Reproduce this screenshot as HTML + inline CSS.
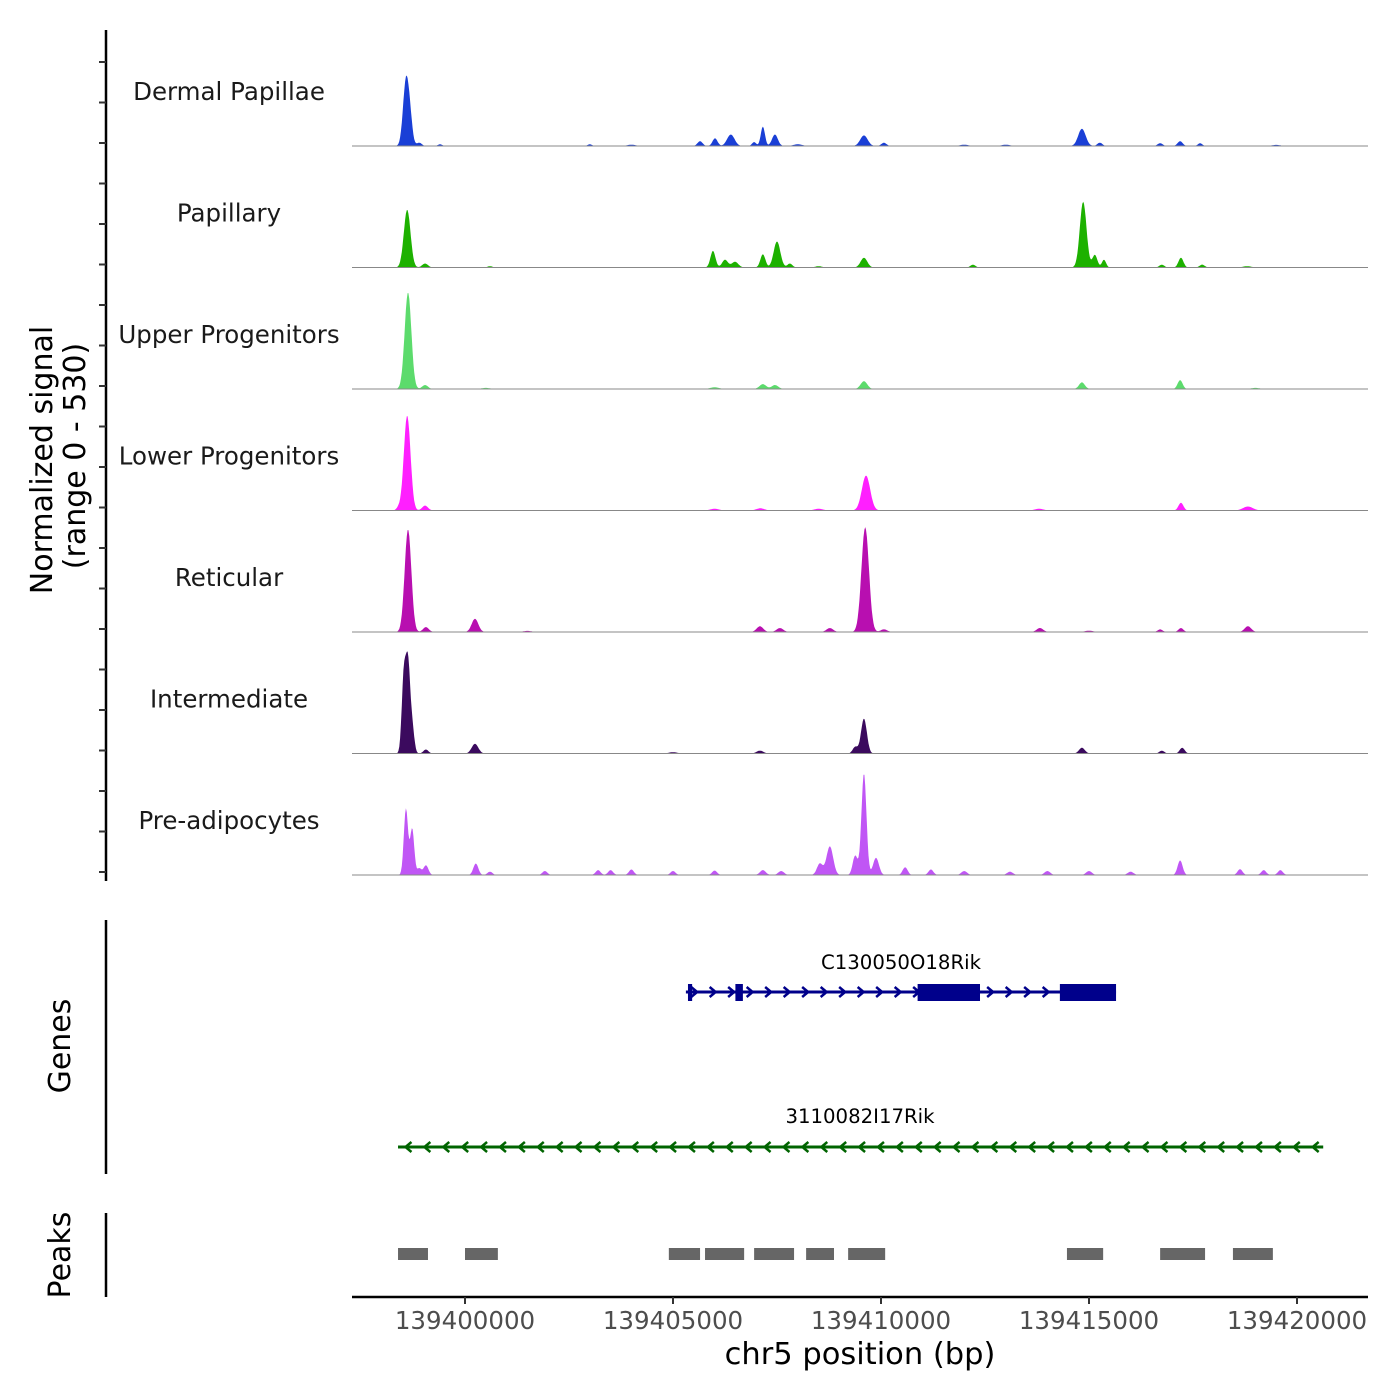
<!DOCTYPE html>
<html><head><meta charset="utf-8"><style>
html,body{margin:0;padding:0;background:#fff;}
svg{display:block;font-family:"DejaVu Sans","Liberation Sans",sans-serif;}
</style></head><body>
<svg id="chart" width="1400" height="1400" viewBox="0 0 1400 1400" xmlns="http://www.w3.org/2000/svg"></svg>
<script>
// ---- data (positions in kb relative to 139,400,000; values in normalized signal 0-530) ----
const trackNames = ["Dermal Papillae","Papillary","Upper Progenitors","Lower Progenitors","Reticular","Intermediate","Pre-adipocytes"];
const trackColors = ["#1a3fd6","#1db100","#5cdb6c","#ff1fff","#b80fb0","#3b0a5e","#c056f5"];
const peaksDermal = [[-1.42,290,0.07],[-1.32,100,0.06],[-1.1,15,0.06],[-0.6,8,0.05],[3.0,8,0.05],[4.0,6,0.1],[5.65,22,0.06],[6.01,35,0.06],[6.39,52,0.09],[6.95,18,0.05],[7.16,88,0.05],[7.45,52,0.07],[8.0,8,0.1],[9.59,48,0.09],[10.07,15,0.06],[12.0,6,0.1],[13.0,6,0.1],[14.83,78,0.09],[15.26,15,0.06],[16.71,13,0.06],[17.19,22,0.06],[17.67,13,0.05],[19.5,5,0.1]];
const peaksPapillary = [[-1.39,262,0.08],[-0.96,18,0.07],[0.6,6,0.06],[5.96,75,0.06],[6.25,35,0.07],[6.49,26,0.08],[7.16,60,0.06],[7.5,118,0.08],[7.81,18,0.06],[8.5,6,0.08],[9.59,44,0.08],[12.21,13,0.06],[14.86,298,0.08],[15.14,57,0.06],[15.36,35,0.05],[16.75,13,0.06],[17.21,44,0.06],[17.72,13,0.06],[18.8,6,0.1]];
const peaksUpper = [[-1.37,438,0.08],[-0.96,18,0.07],[0.5,5,0.1],[6.0,8,0.1],[7.16,22,0.08],[7.45,18,0.08],[9.59,35,0.08],[14.83,30,0.07],[17.19,40,0.06],[19,5,0.1]];
const peaksLower = [[-1.39,430,0.08],[-0.96,22,0.07],[-1.6,12,0.05],[6.0,8,0.1],[7.1,10,0.1],[8.5,8,0.1],[9.64,158,0.1],[13.8,8,0.1],[17.21,35,0.06],[18.82,18,0.12]];
const peaksReticular = [[-1.37,465,0.08],[-0.94,22,0.07],[0.24,60,0.08],[1.5,5,0.1],[7.09,26,0.08],[7.57,18,0.08],[8.77,18,0.08],[9.62,475,0.09],[10.07,12,0.08],[13.82,18,0.08],[15.0,6,0.1],[16.71,12,0.06],[17.21,18,0.06],[18.82,26,0.08]];
const peaksIntermediate = [[-1.47,350,0.05],[-1.37,390,0.05],[-1.27,120,0.05],[-0.94,18,0.06],[0.24,44,0.08],[5.0,6,0.1],[7.09,13,0.08],[9.38,30,0.06],[9.59,158,0.07],[14.83,26,0.07],[16.75,13,0.06],[17.24,26,0.06]];
const peaksPreadipo = [[-1.42,300,0.05],[-1.27,210,0.05],[-0.94,44,0.06],[-1.1,30,0.05],[0.26,52,0.06],[0.6,15,0.06],[1.92,18,0.06],[3.2,22,0.06],[3.5,22,0.06],[4.0,25,0.06],[5.0,18,0.06],[6.0,20,0.06],[7.16,22,0.07],[7.6,18,0.07],[8.53,52,0.07],[8.77,130,0.08],[9.38,88,0.06],[9.59,460,0.06],[9.88,78,0.07],[10.58,35,0.06],[11.2,25,0.06],[12.0,18,0.07],[13.1,15,0.07],[14.0,18,0.07],[15.0,18,0.07],[16.0,15,0.07],[17.19,66,0.06],[18.63,26,0.06],[19.2,22,0.06],[19.6,22,0.06]];
const trackPeaks = [peaksDermal,peaksPapillary,peaksUpper,peaksLower,peaksReticular,peaksIntermediate,peaksPreadipo];
const peakRegions = [[-1.61,-0.89],[0,0.79],[4.90,5.65],[5.77,6.71],[6.95,7.91],[8.20,8.87],[9.21,10.10],[14.47,15.34],[16.71,17.79],[18.46,19.42]];
const gene1Span = [5.31,15.65];
const gene1Exons = [[5.36,5.46],[6.5,6.68],[10.88,12.38],[14.3,15.65]];
const gene2Span = [-1.61,20.63];
const xTicks = [0,5,10,15,20];
const xTickLabels = ["139400000","139405000","139410000","139415000","139420000"];
const maxSignal = 530;

// ---- scales ----
const svg = document.getElementById('chart');
const NS = "http://www.w3.org/2000/svg";
const xs = kb => 465 + kb*41.6;
const trackBase = i => 146 + i*121.5;
const ys = (i,v) => trackBase(i) - v/maxSignal*117;
function mk(tag, attrs, parent){const e=document.createElementNS(NS,tag);for(const k in attrs)e.setAttribute(k,attrs[k]);(parent||svg).appendChild(e);return e;}
function txt(s, attrs){const e=mk('text',attrs);e.textContent=s;return e;}

// left axes
let a = mk('line',{x1:106,y1:30,x2:106,y2:881,stroke:'#000','stroke-width':2.5});


for(let y=62;y<=880;y+=40.5){
  const t=mk('line',{x1:99,y1:y,x2:106,y2:y,stroke:'#333','stroke-width':2});
  
  
}
let yt = txt('Normalized signal',{x:0,y:0,'font-size':30,'text-anchor':'middle',transform:'translate(52,460) rotate(-90)'});


let yt2 = txt('(range 0 - 530)',{x:0,y:0,'font-size':30,'text-anchor':'middle',transform:'translate(85,456) rotate(-90)'});



// tracks
for(let i=0;i<trackNames.length;i++){
  const g=mk('g',{});
  
  
  const peaks=trackPeaks[i];
  let d='M'+xs(-1.7)+','+trackBase(i);
  for(let kb=-1.7;kb<=20.6;kb+=0.02){
    let v=0;
    for(const p of peaks){const z=(kb-p[0])/p[2];if(Math.abs(z)<5)v+=p[1]*Math.exp(-0.5*z*z);}
    d+=' L'+xs(kb).toFixed(1)+','+ys(i,Math.min(v,maxSignal)).toFixed(1);
  }
  d+=' L'+xs(20.6)+','+trackBase(i)+' Z';
  const p=mk('path',{d:d,fill:trackColors[i],stroke:'none'},g);
  
  
  const bl=mk('line',{x1:352,y1:trackBase(i),x2:1368,y2:trackBase(i),stroke:'#888','stroke-width':1},g);
  
  
  const lb=txt(trackNames[i],{x:229,y:trackBase(i)-46,'font-size':24.5,'text-anchor':'middle',fill:'#1a1a1a'});
  
  
}

// genes
let ga=mk('line',{x1:106,y1:920,x2:106,y2:1174,stroke:'#000','stroke-width':2.5});


let gt=txt('Genes',{x:0,y:0,'font-size':30,'text-anchor':'middle',transform:'translate(70,1046) rotate(-90)'});



function chevrons(g,x1,x2,y,color,dir,step){
  for(let x=x1+step/2;x<x2;x+=step){
    mk('path',{d: dir>0?`M${x-4},${y-5} L${x+2},${y} L${x-4},${y+5}`:`M${x+4},${y-5} L${x-2},${y} L${x+4},${y+5}`,stroke:color,'stroke-width':2.5,fill:'none'},g);
  }
}
const g1=mk('g',{});


mk('line',{x1:xs(gene1Span[0]),y1:992,x2:xs(gene1Span[1]),y2:992,stroke:'#00008b','stroke-width':3},g1);
chevrons(g1,xs(gene1Span[0]),xs(gene1Span[1]),992,'#00008b',1,18.5);
for(const e of gene1Exons){mk('rect',{x:xs(e[0]),y:984,width:xs(e[1])-xs(e[0]),height:17,fill:'#00008b'},g1);}
const gl1=txt('C130050O18Rik',{x:901,y:969,'font-size':19.7,'text-anchor':'middle',fill:'#000'});



const g2=mk('g',{});


mk('line',{x1:xs(gene2Span[0]),y1:1147,x2:xs(gene2Span[1]),y2:1147,stroke:'#006400','stroke-width':3},g2);
chevrons(g2,xs(gene2Span[0]),xs(gene2Span[1]),1147,'#006400',-1,18.9);
const gl2=txt('3110082I17Rik',{x:860,y:1123,'font-size':19.7,'text-anchor':'middle',fill:'#000'});



// peaks track
let pa=mk('line',{x1:106,y1:1213,x2:106,y2:1297,stroke:'#000','stroke-width':2.5});


let pt=txt('Peaks',{x:0,y:0,'font-size':30,'text-anchor':'middle',transform:'translate(70,1255) rotate(-90)'});


for(const r of peakRegions){
  const rc=mk('rect',{x:xs(r[0]),y:1248,width:xs(r[1])-xs(r[0]),height:12,fill:'#666'});
  
  
}

// x axis
let xa=mk('line',{x1:352,y1:1297,x2:1368,y2:1297,stroke:'#000','stroke-width':2.5});


for(let i=0;i<xTicks.length;i++){
  const t=mk('line',{x1:xs(xTicks[i]),y1:1297,x2:xs(xTicks[i]),y2:1304,stroke:'#333','stroke-width':2});
  
  
  const l=txt(xTickLabels[i],{x:xs(xTicks[i]),y:1329,'font-size':24.5,'text-anchor':'middle',fill:'#4d4d4d'});
  
  
}
let xt=txt('chr5 position (bp)',{x:860,y:1364,'font-size':30.5,'text-anchor':'middle',fill:'#000'});


</script>
</body></html>
